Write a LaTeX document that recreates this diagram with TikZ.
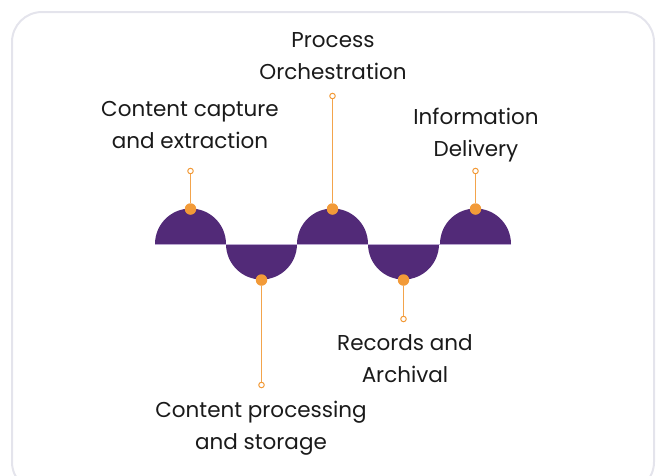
\documentclass[tikz,border=0pt]{standalone}
\usepackage{fontspec}
\setmainfont{Poppins}
\definecolor{brdr}{HTML}{E4E4EC}
\definecolor{purp}{HTML}{522A78}
\definecolor{lav}{HTML}{B9A6CF}
\definecolor{orng}{HTML}{F29A38}
\definecolor{ink}{HTML}{1A1A1A}
\begin{document}
\begin{tikzpicture}[x=1pt,y=-1pt,
  lbl/.style={align=center,text=ink,font=\fontsize{21.5}{32.5}\selectfont,inner sep=0pt},
  dot/.style={circle,fill=orng,minimum size=11.5pt,inner sep=0pt},
  endc/.style={circle,draw=orng,fill=white,line width=1pt,minimum size=5.5pt,inner sep=0pt},
  stem/.style={draw=orng!90,line width=1.5pt}]
\useasboundingbox (0,0) rectangle (662,475);
\draw[brdr,line width=2pt,rounded corners=30pt] (12,12) rectangle (654,492);
% semicircles
\fill[purp] (155,244) arc[start angle=180,end angle=360,radius=35.5] -- cycle;
\fill[purp] (226,244) arc[start angle=180,end angle=0,radius=35.5] -- cycle;
\fill[purp] (297,244) arc[start angle=180,end angle=360,radius=35.5] -- cycle;
\fill[purp] (368,244) arc[start angle=180,end angle=0,radius=35.5] -- cycle;
\fill[purp] (440,244) arc[start angle=180,end angle=360,radius=35.5] -- cycle;
\draw[lav,line width=1pt] (155,244) -- (511,244);
% dots
\node[dot] (d1) at (190.5,209) {};
\node[dot] (d2) at (261.5,280) {};
\node[dot] (d3) at (332.5,209) {};
\node[dot] (d4) at (403.5,280) {};
\node[dot] (d5) at (475.5,209) {};
% ends
\node[endc] (e1) at (190.5,171) {};
\node[endc] (e2) at (261.5,385) {};
\node[endc] (e3) at (332.5,96) {};
\node[endc] (e4) at (403.5,319) {};
\node[endc] (e5) at (475.5,171) {};
\draw[stem] (d1) -- (e1);
\draw[stem] (d2) -- (e2);
\draw[stem] (d3) -- (e3);
\draw[stem] (d4) -- (e4);
\draw[stem] (d5) -- (e5);
% labels
\node[lbl] (t3) at (333,56) {Process\\Orchestration};
\node[lbl] (t1) at (190,125) {Content capture\\and extraction};
\node[lbl] (t5) at (476,135) {Information\\Delivery};
\node[lbl] (t4) at (405,358.5) {Records and\\Archival};
\node[lbl] (t2) at (261,428) {Content processing\\and storage};
\end{tikzpicture}
\end{document}
